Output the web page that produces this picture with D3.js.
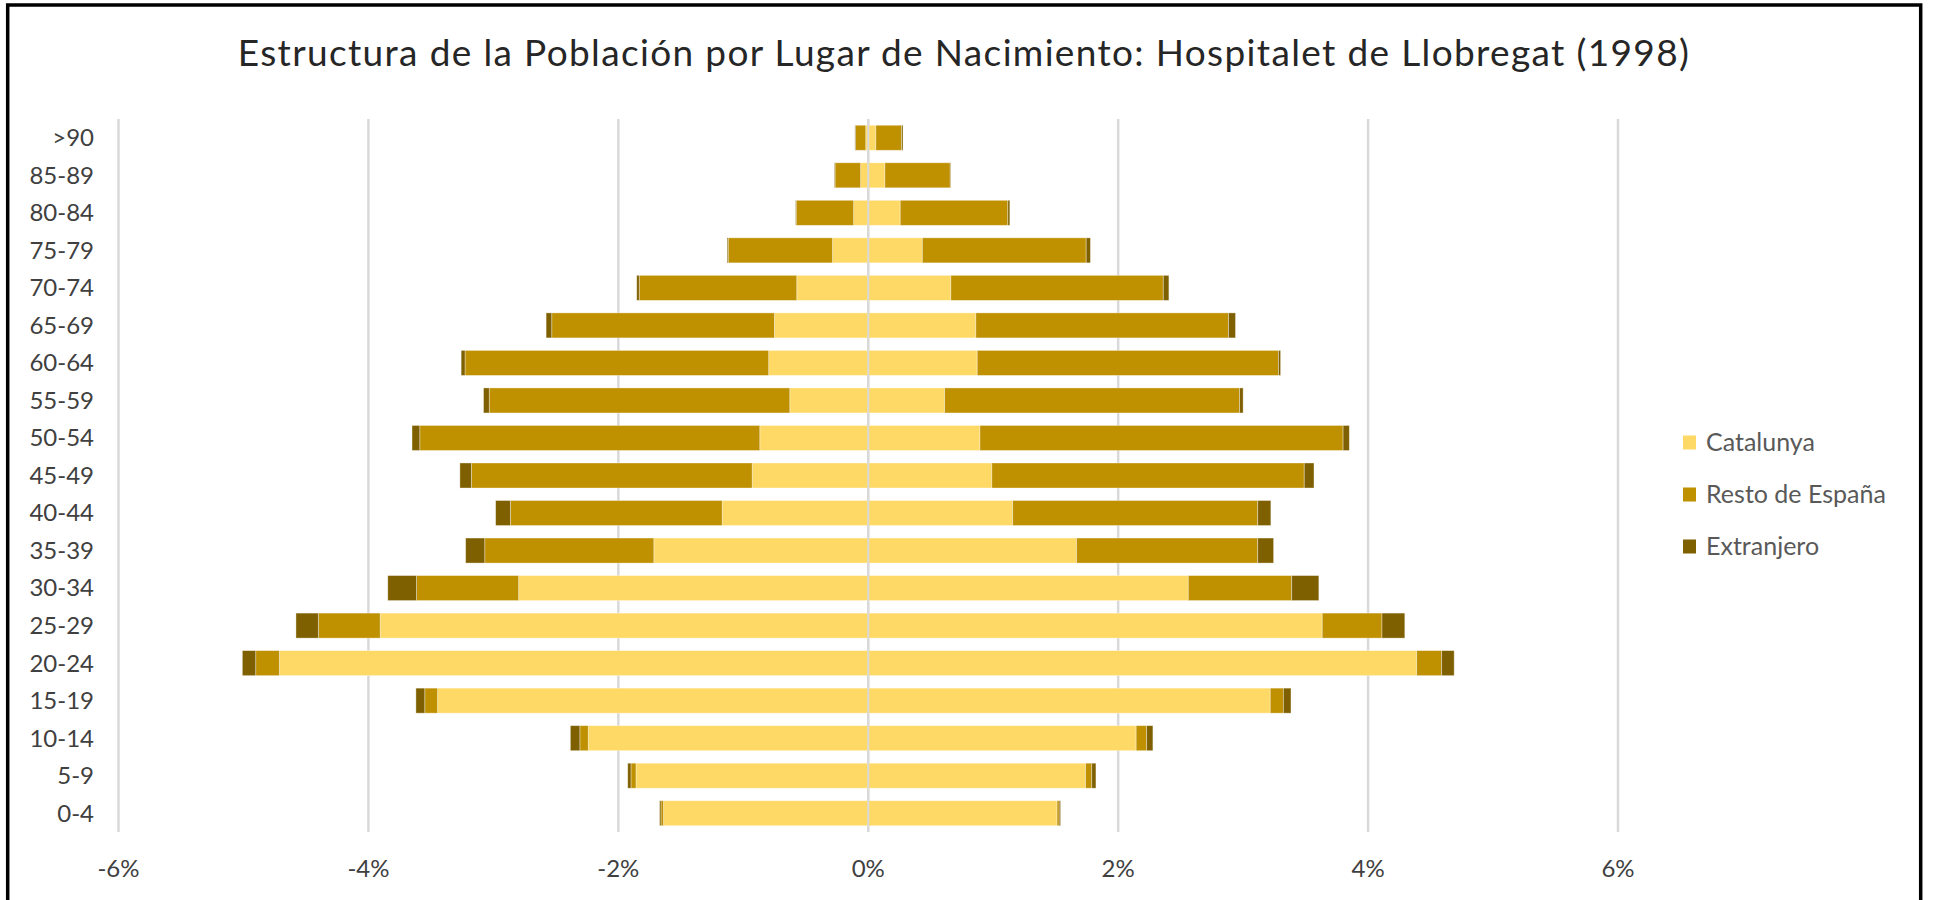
<!DOCTYPE html>
<html>
<head>
<meta charset="utf-8">
<script src="https://cdnjs.cloudflare.com/ajax/libs/d3/7.8.5/d3.min.js"></script>
<style>
  body { margin: 0; background: #fff; }
  svg text { font-family: Lato, "Noto Sans", sans-serif; }
</style>
</head>
<body>
<div id="chart"></div>
<script>
// age groups, top to bottom
const ageGroups = [">90", "85-89", "80-84", "75-79", "70-74", "65-69", "60-64", "55-59", "50-54",
  "45-49", "40-44", "35-39", "30-34", "25-29", "20-24", "15-19", "10-14", "5-9", "0-4"];

const seriesNames = ["Catalunya", "Resto de España", "Extranjero"];
const seriesColors = ["#FFD966", "#BF9000", "#7F6000"];

// left side (% of population), drawn as negative
const leftCatalunya  = [0.02, 0.061, 0.117, 0.286, 0.572, 0.751, 0.797, 0.628, 0.868, 0.929, 1.169, 1.716, 2.798, 3.906, 4.713, 3.447, 2.241, 1.859, 1.639];
const leftResto      = [0.082, 0.205, 0.46, 0.835, 1.261, 1.782, 2.43, 2.405, 2.721, 2.247, 1.695, 1.353, 0.817, 0.495, 0.189, 0.102, 0.067, 0.04, 0.02];
const leftExtranjero = [0.005, 0.005, 0.005, 0.008, 0.02, 0.045, 0.031, 0.046, 0.062, 0.092, 0.118, 0.153, 0.23, 0.179, 0.107, 0.071, 0.076, 0.026, 0.011];

// right side (% of population)
const rightCatalunya  = [0.061, 0.133, 0.256, 0.433, 0.661, 0.861, 0.872, 0.611, 0.894, 0.989, 1.156, 1.667, 2.561, 3.633, 4.389, 3.217, 2.144, 1.739, 1.511];
const rightResto      = [0.206, 0.523, 0.861, 1.311, 1.70, 2.022, 2.411, 2.361, 2.906, 2.50, 1.961, 1.45, 0.828, 0.478, 0.20, 0.105, 0.084, 0.05, 0.017];
const rightExtranjero = [0.011, 0.005, 0.016, 0.034, 0.045, 0.056, 0.017, 0.028, 0.05, 0.078, 0.105, 0.127, 0.217, 0.183, 0.10, 0.061, 0.05, 0.033, 0.011];

const xTicks = [-6, -4, -2, 0, 2, 4, 6];

const width = 1939, height = 900;

const svg = d3.select("#chart")
  .append("svg")
  .attr("width", width)
  .attr("height", height);

// chart frame
svg.append("rect")
  .attr("x", 7.7).attr("y", 5)
  .attr("width", 1913).attr("height", 1000)
  .attr("fill", "#fff")
  .attr("stroke", "#000")
  .attr("stroke-width", 3.5);

svg.append("text")
  .attr("x", 964)
  .attr("y", 66)
  .attr("text-anchor", "middle")
  .attr("font-size", 37)
  .attr("letter-spacing", 1.35)
  .attr("fill", "#262626")
  .text("Estructura de la Población por Lugar de Nacimiento: Hospitalet de Llobregat (1998)");

const xScale = d3.scaleLinear()
  .domain([-6, 6])
  .range([118.5, 1618]);

const yScale = d3.scaleBand()
  .domain(ageGroups)
  .range([119, 832])
  .paddingInner(0.333)
  .paddingOuter(0.1667);

// gridlines
svg.append("g")
  .selectAll("line")
  .data(xTicks)
  .enter()
  .append("line")
    .attr("x1", function(d) { return xScale(d); })
    .attr("x2", function(d) { return xScale(d); })
    .attr("y1", 119)
    .attr("y2", 832)
    .attr("stroke", "#d9d9d9")
    .attr("stroke-width", 2.5);

// build tables for stacking
const keys = ["cat", "resto", "ext"];
const leftData = ageGroups.map(function(g, i) {
  return {group: g, cat: leftCatalunya[i], resto: leftResto[i], ext: leftExtranjero[i]};
});
const rightData = ageGroups.map(function(g, i) {
  return {group: g, cat: rightCatalunya[i], resto: rightResto[i], ext: rightExtranjero[i]};
});

const stack = d3.stack().keys(keys);

function drawSide(data, sign) {
  const layers = stack(data);
  svg.append("g")
    .selectAll("g")
    .data(layers)
    .enter()
    .append("g")
      .attr("fill", function(d, i) { return seriesColors[i]; })
    .selectAll("rect")
    .data(function(d) { return d; })
    .enter()
    .append("rect")
      .attr("x", function(d) { return Math.min(xScale(sign * d[0]), xScale(sign * d[1])); })
      .attr("width", function(d) { return Math.abs(xScale(sign * d[1]) - xScale(sign * d[0])); })
      .attr("y", function(d) { return yScale(d.data.group); })
      .attr("height", yScale.bandwidth())
      .attr("stroke", "#fff")
      .attr("stroke-opacity", 0.45)
      .attr("stroke-width", 0.8);
}

drawSide(leftData, -1);
drawSide(rightData, 1);

// zero line shows through between the two sides
svg.append("line")
  .attr("x1", xScale(0)).attr("x2", xScale(0))
  .attr("y1", 119).attr("y2", 832)
  .attr("stroke", "#d9d9d9")
  .attr("stroke-width", 2);

// category labels
svg.append("g")
  .selectAll("text")
  .data(ageGroups)
  .enter()
  .append("text")
    .attr("x", 94)
    .attr("y", function(d) { return yScale(d) + yScale.bandwidth() / 2; })
    .attr("dy", "0.35em")
    .attr("text-anchor", "end")
    .attr("font-size", 24)
    .attr("fill", "#404040")
    .text(function(d) { return d; });

// x tick labels
svg.append("g")
  .selectAll("text")
  .data(xTicks)
  .enter()
  .append("text")
    .attr("x", function(d) { return xScale(d); })
    .attr("y", 877)
    .attr("text-anchor", "middle")
    .attr("font-size", 24)
    .attr("fill", "#404040")
    .text(function(d) { return d + "%"; });

// legend
const legend = svg.append("g")
  .selectAll("g")
  .data(seriesNames)
  .enter()
  .append("g")
    .attr("transform", function(d, i) { return `translate(1683, ${442.5 + i * 52})`; });

legend.append("rect")
  .attr("x", 0).attr("y", -7)
  .attr("width", 13).attr("height", 14)
  .attr("fill", function(d, i) { return seriesColors[i]; });

legend.append("text")
  .attr("x", 23)
  .attr("dy", "0.35em")
  .attr("font-size", 25)
  .attr("fill", "#595959")
  .text(function(d) { return d; });
</script>
</body>
</html>
